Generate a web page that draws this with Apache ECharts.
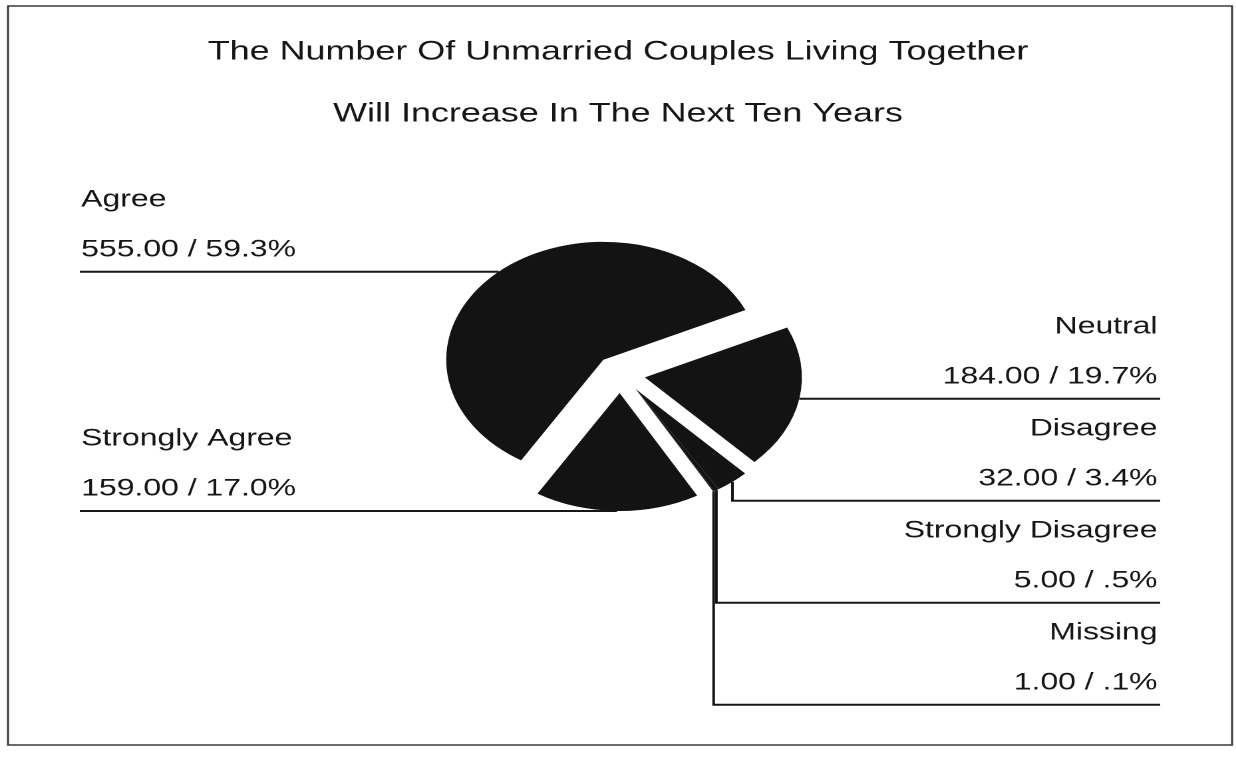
<!DOCTYPE html>
<html>
<head>
<meta charset="utf-8">
<title>Unmarried Couples Living Together</title>
<script src="https://cdn.jsdelivr.net/npm/echarts@6/dist/echarts.min.js"></script>
<style>
  html, body { margin: 0; padding: 0; background: #ffffff; overflow: hidden; }
  /* The chart is laid out on a narrower canvas and widened, giving the
     wide lettering and the oval pie of the printed SPSS page. */
  #chart {
    width: 929px;
    height: 759px;
    transform: scaleX(1.3305);
    transform-origin: 0 0;
  }
</style>
</head>
<body>
<div id="chart"></div>
<script>
// ---- data -----------------------------------------------------------
const titleLines = [
  'The Number Of Unmarried Couples Living Together',
  'Will Increase In The Next Ten Years'
];
// slices in clockwise order, starting at the upper right
const categories = ['Neutral', 'Disagree', 'Strongly Disagree', 'Missing', 'Strongly Agree', 'Agree'];
const counts = [184, 32, 5, 1, 159, 555];

// ---- layout ---------------------------------------------------------
const FONT = '"Liberation Sans", Arial, Helvetica, sans-serif';
const INK = '#161616';
const CX = 466, CY = 374;        // pie centre before exploding
const R = 118;                   // pie radius
const OFFSET = 19;               // every slice is pulled out by this much
const START = 25;                // start angle of the first slice (degrees)
const LEFT_X = 60, RIGHT_X = 872;
const LABEL_GAP = 102;           // min spacing between stacked labels
// the tiny slices move out together with their neighbour
const explodeWith = { 'Strongly Disagree': 'Disagree', 'Missing': 'Disagree' };

const total = counts.reduce((a, b) => a + b, 0);

// mid angle of every slice (radians, clockwise from 3 o'clock)
let acc = 0;
const midAngles = counts.map(v => {
  const a0 = -START + acc / total * 360;
  acc += v;
  const a1 = -START + acc / total * 360;
  return (a0 + a1) / 2 * Math.PI / 180;
});

// exploded centre and rim anchor of every slice
const slices = categories.map((name, i) => {
  const mid = midAngles[i];
  const dirMid = midAngles[categories.indexOf(explodeWith[name] || name)];
  const cx = CX + OFFSET * Math.cos(dirMid);
  const cy = CY + OFFSET * Math.sin(dirMid);
  return {
    cx, cy,
    ax: cx + R * Math.cos(mid),
    ay: cy + R * Math.sin(mid),
    left: Math.cos(mid) < 0
  };
});

// stack labels on each side so they never overlap
[true, false].forEach(side => {
  const idx = slices.map((s, i) => i).filter(i => slices[i].left === side)
    .sort((a, b) => slices[a].ay - slices[b].ay);
  let prev = -Infinity;
  idx.forEach(i => {
    slices[i].ly = Math.max(slices[i].ay, prev + LABEL_GAP);
    prev = slices[i].ly;
  });
});

function fmtPct(v) {
  let s = (v / total * 100).toFixed(1);
  if (s.startsWith('0.')) s = s.slice(1);
  return s + '%';
}

const textStyle = { fontFamily: FONT, fontSize: 24, color: INK, lineHeight: 50 };

// one pie per slice so each can sit at its own exploded centre
const series = categories.map((name, k) => ({
  type: 'pie',
  name: name,
  silent: true,
  animation: false,
  center: [slices[k].cx, slices[k].cy],
  radius: R,
  startAngle: START,
  clockwise: true,
  avoidLabelOverlap: false,
  emphasis: { disabled: true },
  label: {
    show: true,
    position: 'outer',
    formatter: p => '{n|' + p.name + '}\n{v|' + p.value.toFixed(2) + ' / ' + fmtPct(p.value) + '}',
    rich: { n: textStyle, v: textStyle }
  },
  labelLine: {
    show: true,
    lineStyle: { color: INK, width: 2 }
  },
  labelLayout: p => {
    const s = slices[p.dataIndex];
    const endX = s.left ? LEFT_X : RIGHT_X;
    return {
      x: s.left ? LEFT_X + 1 : RIGHT_X - 2,
      y: s.ly + 3,
      align: s.left ? 'left' : 'right',
      verticalAlign: 'bottom',
      labelLinePoints: [[s.ax, s.ay], [s.ax, s.ly], [endX, s.ly]]
    };
  },
  data: categories.map((n, i) => ({
    name: n,
    value: counts[i],
    itemStyle: { color: i === k ? '#131313' : 'rgba(0,0,0,0)', borderWidth: 0 },
    label: { show: i === k },
    labelLine: { show: i === k }
  }))
}));

const chart = echarts.init(document.getElementById('chart'), null, { renderer: 'canvas', devicePixelRatio: 2 });
chart.setOption({
  backgroundColor: '#ffffff',
  animation: false,
  title: {
    text: titleLines.join('\n'),
    left: 'center',
    top: 16,
    textStyle: { fontFamily: FONT, fontSize: 27, fontWeight: 'normal', color: INK, lineHeight: 62 }
  },
  graphic: [{
    type: 'rect',
    silent: true,
    shape: { x: 6, y: 6, width: 920, height: 739 },
    style: { fill: 'none', stroke: '#3a3a3a', lineWidth: 1.5 }
  }],
  series: series
});
</script>
</body>
</html>
